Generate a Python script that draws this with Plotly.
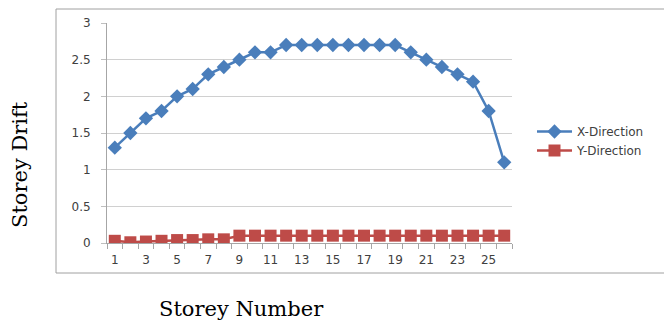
import plotly.graph_objects as go

# Storey drift per storey, in X and Y directions
storeys = list(range(1, 27))
x_direction = [1.3, 1.5, 1.7, 1.8, 2.0, 2.1, 2.3, 2.4, 2.5, 2.6, 2.6, 2.7, 2.7,
               2.7, 2.7, 2.7, 2.7, 2.7, 2.7, 2.6, 2.5, 2.4, 2.3, 2.2, 1.8, 1.1]
y_direction = [0.03, 0.01, 0.02, 0.03, 0.04, 0.04, 0.05, 0.05, 0.1, 0.1, 0.1, 0.1, 0.1,
               0.1, 0.1, 0.1, 0.1, 0.1, 0.1, 0.1, 0.1, 0.1, 0.1, 0.1, 0.1, 0.1]
x_tick_labels = [str(n) for n in range(1, 27, 2)]
y_ticks = [0, 0.5, 1, 1.5, 2, 2.5, 3]

W, H = 664, 322
L, R, T, B = 107, 152, 23, 79
pw, ph = W - L - R, H - T - B

def px_x(p):
    return (p - L) / pw

def px_y(p):
    return (H - B - p) / ph

fig = go.Figure()
fig.add_trace(go.Scatter(
    x=storeys, y=x_direction, name="X-Direction", mode="lines+markers",
    line=dict(color="#4A7EBB", width=2.5),
    marker=dict(symbol="diamond", size=11, color="#4A7EBB"),
))
fig.add_trace(go.Scatter(
    x=storeys, y=y_direction, name="Y-Direction", mode="lines+markers",
    line=dict(color="#BE4B48", width=2.5),
    marker=dict(symbol="square", size=12, color="#BE4B48"),
))

axis_font = dict(family="DejaVu Sans", size=12, color="#404040")

fig.update_layout(
    width=W, height=H,
    margin=dict(l=L, r=R, t=T, b=B),
    paper_bgcolor="white", plot_bgcolor="white",
    showlegend=True,
    legend=dict(x=px_x(532), y=px_y(141), xanchor="left", yanchor="middle",
                font=dict(family="DejaVu Sans", size=12, color="#404040"),
                bgcolor="rgba(0,0,0,0)", itemwidth=35, tracegroupgap=2),
    xaxis=dict(
        range=[0.5, 26.5], tickmode="array",
        tickvals=list(range(1, 27, 2)), ticktext=x_tick_labels,
        ticks="", showgrid=False, zeroline=False,
        showline=True, linecolor="#A6A6A6", linewidth=1,
        tickfont=axis_font, ticklabelstandoff=6,
        minor=dict(tickmode="linear", tick0=0.5, dtick=1, ticks="outside",
                   ticklen=5, tickcolor="#A6A6A6", showgrid=False),
    ),
    yaxis=dict(
        range=[0, 3], tickmode="array", tickvals=y_ticks,
        ticktext=["0", "0.5", "1", "1.5", "2", "2.5", "3"],
        ticks="outside", ticklen=5, tickcolor="#BFBFBF",
        showgrid=True, gridcolor="#D0D0D0", gridwidth=1, zeroline=False,
        showline=True, linecolor="#A6A6A6", linewidth=1,
        tickfont=axis_font, ticklabelstandoff=8,
    ),
    shapes=[dict(type="rect", xref="paper", yref="paper",
                 x0=px_x(56), x1=px_x(668), y0=px_y(273), y1=px_y(9),
                 line=dict(color="#A0A0A0", width=1), fillcolor="rgba(0,0,0,0)",
                 layer="below")],
    annotations=[
        dict(text="Storey Drift", xref="paper", yref="paper",
             x=px_x(20), y=px_y(165), xanchor="center", yanchor="middle",
             textangle=-90, showarrow=False,
             font=dict(family="DejaVu Serif", size=21, color="#000000")),
        dict(text="Storey Number", xref="paper", yref="paper",
             x=px_x(241), y=px_y(309), xanchor="center", yanchor="middle",
             showarrow=False,
             font=dict(family="DejaVu Serif", size=21, color="#000000")),
    ],
)

fig.write_html("out.html")
